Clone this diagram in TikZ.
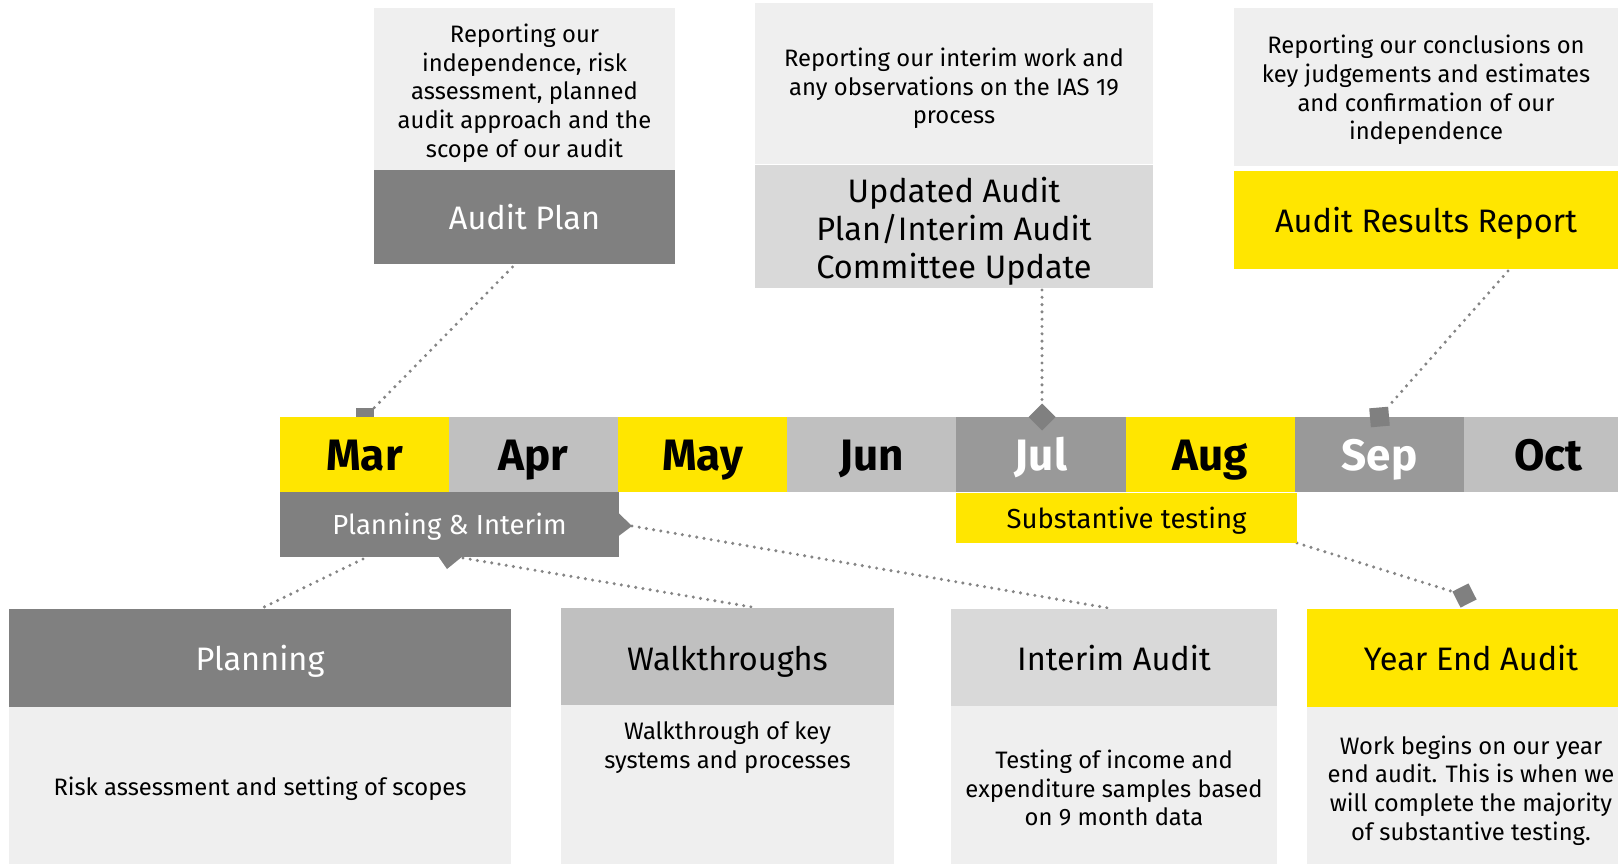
\documentclass[tikz,border=0pt]{standalone}
\usepackage{fontspec}
\setmainfont{Fira Sans}
\usetikzlibrary{calc,shapes.geometric}
\definecolor{eyyellow}{HTML}{FFE600}
\definecolor{dgray}{HTML}{808080}
\definecolor{mgray}{HTML}{999999}
\definecolor{lgray}{HTML}{C0C0C0}
\definecolor{pgray}{HTML}{D9D9D9}
\definecolor{bgray}{HTML}{EFEFEF}
\definecolor{dotc}{HTML}{858585}
\pgfdeclarelayer{bg}
\pgfsetlayers{bg,main}
\begin{document}
\begin{tikzpicture}[x=1pt,y=-1pt,
  box/.style={inner sep=0pt, outer sep=0pt, anchor=north west, align=center},
  txt/.style={inner sep=0pt, outer sep=0pt, align=center},
  bodytxt/.style={font=\fontsize{23.8}{28.7}\selectfont, text=black},
  headtxt/.style={font=\fontsize{32.5}{38}\selectfont, text=black},
  onehead/.style={headtxt, text height=25pt, text depth=0pt},
  monthtxt/.style={font=\bfseries\fontsize{44}{48}\selectfont, text=black, text height=31pt, text depth=0pt},
  bartxt/.style={font=\fontsize{27.5}{30}\selectfont, text=black, text height=20pt, text depth=0pt},
  dotline/.style={draw=dotc, line width=3.4pt, line cap=round, dash pattern=on 0pt off 7.3pt},
  marker/.style={fill=dgray, inner sep=0pt, outer sep=0pt, minimum size=18pt}
]
\useasboundingbox (0,0) rectangle (1618,863);
\clip (0,0) rectangle (1618,863);

% top boxes
\node[box, fill=bgray, minimum width=301pt, minimum height=162pt] (ap-body) at (374,8) {};
\node[txt, bodytxt] (ap-txt) at ($(ap-body.center)+(0,4)$) {Reporting our\\independence, risk\\assessment, planned\\audit approach and the\\scope of our audit};
\node[box, fill=dgray, minimum width=301pt, minimum height=94pt, onehead, text=white] (ap-head) at (374,170) {Audit Plan};

\node[box, fill=bgray, minimum width=398pt, minimum height=161pt] (up-body) at (755,3) {};
\node[txt, bodytxt] (up-txt) at ($(up-body.center)+(0,5)$) {Reporting our interim work and\\any observations on the IAS 19\\process};
\node[box, fill=pgray, minimum width=398pt, minimum height=123pt] (up-head) at (755,165) {};
\node[txt, headtxt] (up-title) at ($(up-head.center)+(0,4.5)$) {Updated Audit\\Plan/Interim Audit\\Committee Update};

\node[box, fill=bgray, minimum width=384pt, minimum height=158pt] (ar-body) at (1234,8) {};
\node[txt, bodytxt] (ar-txt) at ($(ar-body.center)+(0,3)$) {Reporting our conclusions on\\key judgements and estimates\\and confirmation of our\\independence};
\node[box, fill=eyyellow, minimum width=384pt, minimum height=98pt, onehead] (ar-head) at (1234,171) {Audit Results Report};

% Mar marker (behind the bar)
\node[marker] (mk-mar) at (365,417) {};

% months
\node[box, fill=eyyellow, minimum width=169pt, minimum height=75pt, monthtxt] (m-mar) at (280,417) {Mar};
\node[box, fill=lgray, minimum width=169pt, minimum height=75pt, monthtxt] (m-apr) at (449,417) {Apr};
\node[box, fill=eyyellow, minimum width=169pt, minimum height=75pt, monthtxt] (m-may) at (618,417) {May};
\node[box, fill=lgray, minimum width=169pt, minimum height=75pt, monthtxt] (m-jun) at (787,417) {Jun};
\node[box, fill=mgray, minimum width=170pt, minimum height=75pt, monthtxt, text=white] (m-jul) at (956,417) {Jul};
\node[box, fill=eyyellow, minimum width=169pt, minimum height=75pt, monthtxt] (m-aug) at (1126,417) {Aug};
\node[box, fill=mgray, minimum width=169pt, minimum height=75pt, monthtxt, text=white] (m-sep) at (1295,417) {Sep};
\node[box, fill=lgray, minimum width=169pt, minimum height=75pt, monthtxt] (m-oct) at (1464,417) {Oct};

% markers on top
\node[diamond, fill=dgray, inner sep=0pt, outer sep=0pt, minimum width=27pt, minimum height=27pt] (mk-jul) at (1042,417) {};
\node[marker, minimum size=19pt, rotate=5] (mk-sep) at (1379.5,417) {};

% phase bars
\node[box, fill=dgray, minimum width=339pt, minimum height=65pt, bartxt, text=white] (pi) at (280,492) {Planning \& Interim};
\fill[dgray] ($(pi.south west)+(158,-1)$) -- ($(pi.south west)+(183,-1)$) -- ($(pi.south west)+(167,12)$) -- cycle;
\fill[dgray] ($(pi.east)+(-1,-12)$) -- ($(pi.east)+(13,1.5)$) -- ($(pi.east)+(-1,12)$) -- cycle;
\coordinate (pi-tip-r) at ($(pi.east)+(13,1.5)$);
\coordinate (pi-tip-b) at ($(pi.south west)+(183,1)$);

\node[box, fill=eyyellow, minimum width=341pt, minimum height=50pt, bartxt] (st) at (956,493) {Substantive testing};

% bottom boxes
\node[box, fill=dgray, minimum width=502pt, minimum height=98pt, onehead, text=white] (pl-head) at (9,609) {Planning};
\node[box, fill=bgray, minimum width=502pt, minimum height=160pt] (pl-body) at (9,707) {};
\node[txt, bodytxt] (pl-txt) at ($(pl-body.center)+(0,2)$) {Risk assessment and setting of scopes};

\node[box, fill=lgray, minimum width=333pt, minimum height=97pt, onehead, text height=27pt] (wt-head) at (561,608) {Walkthroughs};
\node[box, fill=bgray, minimum width=333pt, minimum height=160pt] (wt-body) at (561,705) {};
\node[txt, anchor=north, bodytxt] (wt-txt) at ($(wt-body.north)+(0,17)$) {Walkthrough of key\\systems and processes};

\node[box, fill=pgray, minimum width=326pt, minimum height=97pt, onehead] (ia-head) at (951,609) {Interim Audit};
\node[box, fill=bgray, minimum width=326pt, minimum height=160pt] (ia-body) at (951,706) {};
\node[txt, bodytxt] (ia-txt) at ($(ia-body.center)+(0,2)$) {Testing of income and\\expenditure samples based\\on 9 month data};

\node[box, fill=eyyellow, minimum width=328pt, minimum height=98pt, onehead] (ye-head) at (1307,609) {Year End Audit};
\node[box, fill=bgray, minimum width=328pt, minimum height=160pt] (ye-body) at (1307,707) {};
\node[txt, bodytxt] (ye-txt) at ($(ye-body.center)+(0,3.5)$) {Work begins on our year\\end audit. This is when we\\will complete the majority\\of substantive testing.};

\node[marker, minimum size=18pt, rotate=27] (mk-ye) at (1464.5,595.5) {};

% dotted connectors
\begin{pgfonlayer}{bg}
\draw[dotline] ($(ap-head.south)+(-12,3)$) -- (mk-mar.north east);
\draw[dotline] ($(up-head.south)+(88,2)$) -- (mk-jul.north);
\draw[dotline] ($(ar-head.south)+(82,2)$) -- (mk-sep.north east);
\draw[dotline] ($(pi.south west)+(83,2)$) -- (pl-head.north);
\draw[dotline] (pi-tip-b) -- ($(wt-head.north)+(30,0)$);
\draw[dotline] (pi-tip-r) -- (ia-head.north);
\draw[dotline] (st.south east) -- (mk-ye.north west);
\end{pgfonlayer}
\end{tikzpicture}
\end{document}
